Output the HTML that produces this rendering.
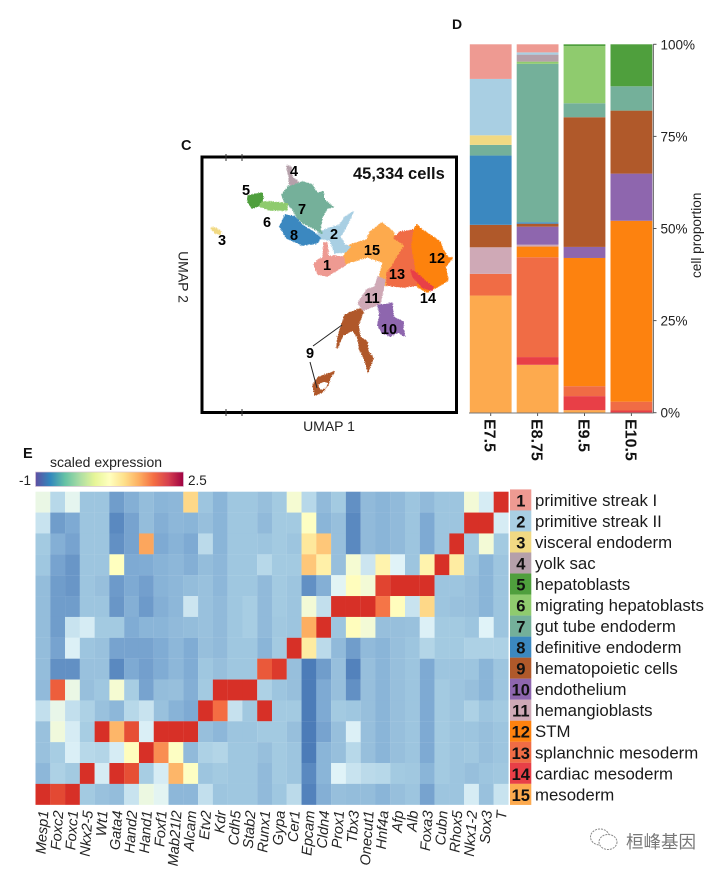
<!DOCTYPE html>
<html lang="en">
<head>
<meta charset="utf-8">
<title>Single-cell atlas figure: UMAP, cell proportions and marker heatmap</title>
<style>
html,body{margin:0;padding:0;background:#fff;}
body{width:720px;height:873px;overflow:hidden;}
svg{display:block;font-family:"Liberation Sans","Noto Sans CJK SC",sans-serif;}
</style>
</head>
<body>
<svg id="fig" width="720" height="873" viewBox="0 0 720 873" xmlns="http://www.w3.org/2000/svg">
  <defs>
    <filter id="rough" filterUnits="userSpaceOnUse" x="190" y="150" width="280" height="270">
      <feTurbulence type="fractalNoise" baseFrequency="0.9" numOctaves="2" seed="4" result="n"/>
      <feDisplacementMap in="SourceGraphic" in2="n" scale="3" xChannelSelector="R" yChannelSelector="G"/>
    </filter>
    <linearGradient id="spectral" x1="0" x2="1" y1="0" y2="0">
      <stop offset="0" stop-color="#5e4fa2"/><stop offset=".1" stop-color="#3288bd"/>
      <stop offset=".2" stop-color="#66c2a5"/><stop offset=".3" stop-color="#abdda4"/>
      <stop offset=".4" stop-color="#e6f598"/><stop offset=".5" stop-color="#ffffbf"/>
      <stop offset=".6" stop-color="#fee08b"/><stop offset=".7" stop-color="#fdae61"/>
      <stop offset=".8" stop-color="#f46d43"/><stop offset=".9" stop-color="#d53e4f"/>
      <stop offset="1" stop-color="#9e0142"/>
    </linearGradient>
  </defs>

  <text x="181" y="150" font-size="14.5" font-weight="700" fill="#111">C</text>
  <text x="452" y="29" font-size="14" font-weight="700" fill="#111">D</text>
  <text x="23" y="458" font-size="14.5" font-weight="700" fill="#111">E</text>

  <g id="umap">
    <g id="umap-clusters" filter="url(#rough)"></g>
    <rect x="202" y="157" width="254.5" height="255.5" fill="none" stroke="#000" stroke-width="3"/>
    <g stroke="#333" stroke-width="1">
      <line x1="226" x2="226" y1="154" y2="161"/><line x1="242" x2="242" y1="154" y2="161"/>
      <line x1="226" x2="226" y1="409" y2="416"/><line x1="242" x2="242" y1="409" y2="416"/>
    </g>
    <g stroke="#222" stroke-width="1">
      <line x1="313" y1="346" x2="342" y2="325"/>
      <line x1="310" y1="362" x2="317" y2="388"/>
    </g>
    <g id="umap-labels"></g>
    <text x="353" y="179" font-size="16.5" font-weight="700" fill="#111">45,334 cells</text>
    <text x="329" y="431" font-size="14" text-anchor="middle" fill="#222">UMAP 1</text>
    <text transform="translate(178.5,277) rotate(90)" font-size="14" text-anchor="middle" fill="#222">UMAP 2</text>
  </g>

  <g id="stack"></g>

  <g>
    <text x="50" y="467" font-size="14" fill="#222">scaled expression</text>
    <rect x="35.5" y="472" width="148" height="14.5" fill="url(#spectral)" stroke="#d9c3d6" stroke-width=".7"/>
    <text x="19" y="485" font-size="13.5" fill="#222">-1</text>
    <text x="188" y="485" font-size="13.5" fill="#222">2.5</text>
  </g>

  <g id="heatmap"></g>
  <g id="gene-labels"></g>
  <g id="legend"></g>

  <g>
    <g fill="none" stroke="#8a8a8a" stroke-width="1" stroke-dasharray="2 1">
      <ellipse cx="600" cy="837" rx="9.5" ry="8"/>
      <ellipse cx="608" cy="842" rx="9" ry="7.5" fill="#fff"/>
    </g>
    <text x="626" y="848" font-size="17.5" fill="#777" font-family="'Liberation Sans','Noto Sans CJK SC',sans-serif">桓峰基因</text>
  </g>
</svg>

<script>
const NS = 'http://www.w3.org/2000/svg';

/* ---------- shared cluster data ---------- */
const clusterNames = ['primitive streak I','primitive streak II','visceral endoderm','yolk sac','hepatoblasts','migrating hepatoblasts','gut tube endoderm','definitive endoderm','hematopoietic cells','endothelium','hemangioblasts','STM','splanchnic mesoderm','cardiac mesoderm','mesoderm'];
const clusterColors = ['#ee9a92','#a9cfe3','#f1d983','#b5a0aa','#4f9f3d','#8fcb6e','#74b09a','#3b88c0','#b0592a','#8e66ae','#cfa9b6','#fd820f','#f06c45','#e83f47','#fdaa4e'];

/* ---------- stacked bars: percent per cluster 1..15 ---------- */
const stages = ['E7.5','E8.75','E9.5','E10.5'];
const shareE75  = [9.4,15.3,2.6,0,0,0,2.9,18.8,6.1,0,7.2,0,5.9,0,31.8];
const shareE875 = [2.2,0.6,0,1.9,0,0.6,43,0.4,0.8,4.9,0.5,2.9,27.1,2.1,13];
const shareE95  = [0,0,0,0,0.5,15.5,3.8,0,35.2,3,0,34.8,2.7,3.8,0.7];
const shareE105 = [0,0,0,0,11.4,0,6.6,0,17.1,12.8,0,49.1,2.4,0.6,0];
const stageShares = [shareE75,shareE875,shareE95,shareE105];
const pctTicks = [0,25,50,75,100];

/* ---------- heatmap: scaled expression, row = cluster, column = gene ---------- */
const genes = ['Mesp1','Foxc2','Foxc1','Nkx2-5','Wt1','Gata4','Hand2','Hand1','Foxf1','Mab21l2','Alcam','Etv2','Kdr','Cdh5','Stab2','Runx1','Gypa','Cer1','Epcam','Cldn4','Prox1','Tbx3','Onecut1','Hnf4a','Afp','Alb','Foxa3','Cubn','Rhox5','Nkx1-2','Sox3','T'];
const expr1  = [.1,-.2,.05,-.35,-.35,-.7,-.55,-.42,-.5,-.48,.75,-.35,-.5,-.33,-.33,-.4,-.3,.2,-.2,-.45,-.3,-.8,-.45,-.5,-.45,-.35,-.45,-.35,-.35,.18,-.05,2];
const expr2  = [-.12,-.7,-.6,-.35,-.35,-.85,-.65,-.42,-.55,-.48,-.5,-.4,-.5,-.33,-.33,-.45,-.3,-.3,.28,-.5,-.4,-.85,-.45,-.5,-.45,-.35,-.6,-.35,-.35,2,2,-.05];
const expr3  = [-.3,-.55,-.65,-.35,-.35,-.8,-.65,1.05,-.6,-.52,-.6,-.18,-.5,-.33,-.33,-.35,-.3,-.35,.6,.85,-.4,-.85,-.45,-.5,-.45,-.35,-.6,-.35,2,-.3,.18,-.3];
const expr4  = [-.33,-.65,-.75,-.35,-.35,.3,-.6,-.58,-.52,-.48,-.55,-.42,-.48,-.33,-.33,-.2,-.3,-.3,.85,.5,-.4,.2,-.1,.45,0,-.35,.45,2,.55,-.35,-.5,-.35];
const expr5  = [-.42,-.7,-.75,-.35,-.4,-.72,-.6,-.68,-.52,-.48,-.42,-.38,-.48,-.33,-.33,-.45,-.3,-.35,-.8,-.55,.02,.32,.18,1.8,2,2,2,-.35,-.35,-.4,-.5,-.35];
const expr6  = [-.42,-.7,-.7,-.35,-.35,-.75,-.55,-.72,-.55,-.48,-.1,-.38,-.45,-.33,-.28,-.45,-.3,-.35,.18,-.15,2,2,2,1.35,.32,-.12,.75,-.35,-.38,-.4,-.5,-.35];
const expr7  = [-.42,-.7,-.12,-.05,-.3,-.3,-.58,-.5,-.5,-.45,-.42,-.38,-.45,-.33,-.28,-.45,-.32,-.35,1,2,-.35,.32,.18,-.4,-.4,-.38,-.02,-.3,-.3,-.35,0,-.35];
const expr8  = [-.42,-.65,-.02,-.35,-.38,-.65,-.65,-.65,-.58,-.48,-.58,-.4,-.45,-.33,-.33,-.5,-.3,2,.55,-.18,-.45,-.7,-.45,-.5,-.4,-.35,-.22,-.3,-.3,-.25,-.25,-.25];
const expr9  = [-.42,-.8,-.8,-.38,-.38,-.85,-.6,-.68,-.58,-.48,-.58,-.33,-.4,-.33,-.33,1.6,1.9,-.4,-.95,-.7,-.4,-.9,-.4,-.5,-.4,-.35,-.6,-.35,-.35,-.35,-.5,-.35];
const expr10 = [-.45,1.55,.1,-.4,-.33,.2,-.28,-.65,-.42,-.4,-.55,-.3,2,2,2,-.25,-.35,-.4,-.95,-.6,-.4,-.8,-.4,-.5,-.4,-.35,-.6,-.3,-.35,-.4,-.5,-.35];
const expr11 = [-.15,.08,-.15,-.25,-.38,-.48,-.2,-.12,-.38,-.52,-.6,2,1.4,-.13,-.32,2,-.3,-.3,-.95,-.6,-.3,-.33,-.4,-.5,-.4,-.35,-.6,-.3,-.35,-.25,-.35,-.3];
const expr12 = [-.38,.15,-.05,-.28,2,.95,1.7,-.03,2,2,2,-.4,-.48,-.35,-.35,-.3,-.3,-.4,-.95,-.65,-.4,-.02,-.4,-.5,-.4,-.35,-.6,-.3,-.35,-.35,-.4,-.35];
const expr13 = [-.38,-.28,-.03,-.2,-.22,-.05,.32,2,1.2,.28,-.45,-.25,-.22,-.33,-.33,-.4,-.3,-.35,-.95,-.5,-.4,-.2,-.4,-.5,-.4,-.35,-.6,-.3,-.35,-.32,-.4,-.35];
const expr14 = [-.48,-.25,-.3,2,-.05,2,1.7,-.28,-.05,.95,.28,-.35,-.3,-.33,-.33,-.45,-.3,-.35,-.85,-.5,0,-.12,-.18,-.2,-.3,-.32,-.5,-.3,-.35,-.4,-.35,-.32];
const expr15 = [2,1.75,2,-.3,-.38,-.42,-.12,.12,.03,-.48,-.48,-.15,-.35,-.33,-.33,-.45,-.33,-.18,-.9,-.55,-.4,-.42,-.42,-.5,-.4,-.35,-.65,-.35,-.35,-.05,-.38,-.12];
const exprRows = [expr1,expr2,expr3,expr4,expr5,expr6,expr7,expr8,expr9,expr10,expr11,expr12,expr13,expr14,expr15];

/* ---------- UMAP cluster outlines, in UMAP units ---------- */
const umap15 = [[141,155],[148,168],[165,173],[168,181],[180,190],[191,181],[195,173],[203,168],[195,155],[190,146],[185,140],[185,128],[176,127],[178,138],[181,151],[165,156],[148,151],[142,148]];
const umap13 = [[192,175],[198,181],[212,183],[210,166],[213,150],[215,136],[216,128],[201,126],[185,128],[185,140],[190,146],[195,155],[203,168]];
const umap12 = [[212,183],[215,188],[220,183],[231,176],[238,171],[240,165],[246,155],[250,155],[243,146],[246,133],[235,126],[225,121],[216,126],[215,136],[213,150],[210,166]];
const umap14 = [[209,143],[213,141],[220,135],[225,130],[231,126],[230,123],[221,125],[216,131],[211,136]];
const umap1  = [[112,148],[116,153],[121,155],[122,170],[125,170],[126,157],[141,156],[143,148],[135,143],[125,137],[116,139]];
const umap2  = [[116,180],[128,185],[138,188],[143,196],[151,201],[146,190],[138,176],[143,168],[148,166],[143,161],[133,160],[130,168],[128,173],[116,175]];
const umap7  = [[80,218],[86,226],[101,231],[110,228],[115,220],[121,221],[122,213],[131,206],[125,205],[120,196],[118,183],[120,180],[111,185],[101,190],[95,196],[90,205],[83,211]];
const umap8  = [[78,186],[83,198],[93,196],[100,188],[111,181],[118,175],[115,170],[100,168],[85,175]];
const umap5  = [[46,217],[60,220],[61,215],[58,208],[50,205],[46,211]];
const umap6  = [[60,211],[68,211],[85,209],[85,203],[68,203],[58,207]];
const umap4  = [[85,247],[89,246],[90,236],[96,231],[88,228],[87,236]];
const umap3  = [[9,185],[13,185],[19,181],[18,179],[13,180]];
const umap11 = [[176,136],[183,133],[178,110],[170,106],[161,103],[156,110],[165,123],[173,126]];
const umap10 = [[176,108],[181,108],[190,110],[191,96],[201,91],[201,83],[203,77],[196,81],[188,77],[180,81],[176,88],[178,100]];
const umap9a = [[143,98],[158,104],[161,101],[156,88],[158,76],[165,71],[166,61],[171,55],[166,41],[163,53],[158,63],[156,75],[151,83],[141,78],[135,65],[136,76],[140,88]];
const umap9b = [[111,28],[116,35],[126,39],[132,41],[128,35],[126,28],[120,21],[113,18]];
const umap9hole = [[116,28],[121,31],[126,30],[124,25],[119,23]];
const umapShapes = [[15,umap15],[13,umap13],[12,umap12],[14,umap14],[1,umap1],[2,umap2],[7,umap7],[8,umap8],[5,umap5],[6,umap6],[4,umap4],[3,umap3],[11,umap11],[10,umap10],[9,umap9a],[9,umap9b]];
const umapLabelIds = [1,2,3,4,5,6,7,8,9,10,11,12,13,14,15];
const umapLabelU = [125,132,20,92,44,65,100,92,108,187,170,235,195,226,170];
const umapLabelV = [148,179,173,242,223,191,204,178,60,84,115,155,139,115,163];

/* ---------- scales ---------- */
const xU = u => 202 + u;
const yU = v => 413 - v;
const yPct = p => 412.7 - p * 3.684;
const barX = i => 469.8 + i * 46.9;
const barW = 41.8;
const hmX = c => 35.5 + c * 14.78;
const hmY = r => 491.7 + r * 20.87;
const legY = r => 489.4 + r * 21.03;

const colorStops = [[-1,[69,117,180]],[-.6,[126,170,211]],[-.3,[163,202,225]],[0,[224,243,248]],[.3,[255,255,191]],[.7,[254,224,144]],[1,[253,174,97]],[1.4,[244,109,67]],[2,[215,48,39]]];
function exprColor(v){
  v = Math.max(-1, Math.min(2, v));
  for (let i = 1; i < colorStops.length; i++){
    if (v <= colorStops[i][0]){
      const [a, ca] = colorStops[i-1], [b, cb] = colorStops[i];
      const t = (v - a) / (b - a);
      return 'rgb(' + ca.map((c, k) => Math.round(c + (cb[k] - c) * t)).join(',') + ')';
    }
  }
  return 'rgb(215,48,39)';
}
function make(tag, attrs, parent, text){
  const el = document.createElementNS(NS, tag);
  for (const k in attrs) el.setAttribute(k, attrs[k]);
  if (text !== undefined) el.textContent = text;
  parent.appendChild(el);
  return el;
}
const toPoints = pts => pts.map(p => xU(p[0]).toFixed(1) + ',' + yU(p[1]).toFixed(1)).join(' ');

/* ---------- UMAP ---------- */
const clusterG = document.getElementById('umap-clusters');
umapShapes.forEach(s => {
  const c = clusterColors[s[0]-1];
  const el = make('polygon', {points: toPoints(s[1]), fill: c, stroke: c, 'stroke-width': 1.5, 'stroke-linejoin': 'round'}, clusterG);
  
  
});
const holeEl = make('polygon', {points: toPoints(umap9hole), fill: '#fff'}, clusterG);


const labelG = document.getElementById('umap-labels');
umapLabelIds.forEach((id, i) => {
  const el = make('text', {x: xU(umapLabelU[i]), y: yU(umapLabelV[i]) + 5, 'font-size': 14.5, 'font-weight': 700, 'text-anchor': 'middle', fill: '#000'}, labelG, String(id));
  
  
});

/* ---------- stacked bars ---------- */
const stackG = document.getElementById('stack');
stages.forEach((stage, s) => {
  let base = 0;
  for (let c = 14; c >= 0; c--){
    const val = stageShares[s][c];
    if (val <= 0) continue;
    const seg = make('rect', {x: barX(s), y: yPct(base + val), width: barW, height: yPct(base) - yPct(base + val), fill: clusterColors[c]}, stackG);
    
    
    base += val;
  }
  const tick = make('line', {x1: barX(s) + barW / 2, x2: barX(s) + barW / 2, y1: 413, y2: 416, stroke: '#555', 'stroke-width': 1}, stackG);
  
  
  const lab = make('text', {transform: 'translate(' + (barX(s) + barW / 2 - 6) + ',419) rotate(90)', 'font-size': 16, 'font-weight': 700, fill: '#111'}, stackG, stage);
  
  
});
const yAxisLine = make('line', {x1: 653.3, x2: 653.3, y1: yPct(100), y2: yPct(0) + .5, stroke: '#555', 'stroke-width': 1}, stackG);


const xAxisLine = make('line', {x1: 469, x2: 653.3, y1: yPct(0) + .3, y2: yPct(0) + .3, stroke: '#777', 'stroke-width': 1}, stackG);


pctTicks.forEach(p => {
  const t = make('line', {x1: 653.3, x2: 656.5, y1: yPct(p), y2: yPct(p), stroke: '#555', 'stroke-width': 1}, stackG);
  
  
  const l = make('text', {x: 660.5, y: yPct(p) + 5, 'font-size': 13.5, fill: '#222'}, stackG, p + '%');
  
  
});
const pTitle = make('text', {transform: 'translate(701,278) rotate(-90)', 'font-size': 13.6, fill: '#222'}, stackG, 'cell proportion');



/* ---------- heatmap ---------- */
const hmG = document.getElementById('heatmap');
exprRows.forEach((row, r) => {
  row.forEach((v, c) => {
    const cell = make('rect', {x: hmX(c), y: hmY(r), width: 14.88, height: 20.97, fill: exprColor(v)}, hmG);
    
    
  });
});
const geneG = document.getElementById('gene-labels');
genes.forEach((g, c) => {
  const lab = make('text', {transform: 'translate(' + (hmX(c) + 13) + ',811) rotate(-86)', 'font-size': 14.5, 'font-style': 'italic', 'text-anchor': 'end', fill: '#222'}, geneG, g);
  
  
});

/* ---------- legend ---------- */
const legG = document.getElementById('legend');
clusterNames.forEach((name, i) => {
  const sw = make('rect', {x: 510, y: legY(i), width: 21.3, height: 21.1, fill: clusterColors[i]}, legG);
  
  
  const num = make('text', {x: 520.8, y: legY(i) + 17, 'font-size': 16.5, 'font-weight': 700, 'text-anchor': 'middle', fill: '#111'}, legG, String(i + 1));
  
  
  const lab = make('text', {x: 535, y: legY(i) + 16.5, 'font-size': 16.8, fill: '#1a1a1a'}, legG, name);
  
  
});
</script>
</body>
</html>
